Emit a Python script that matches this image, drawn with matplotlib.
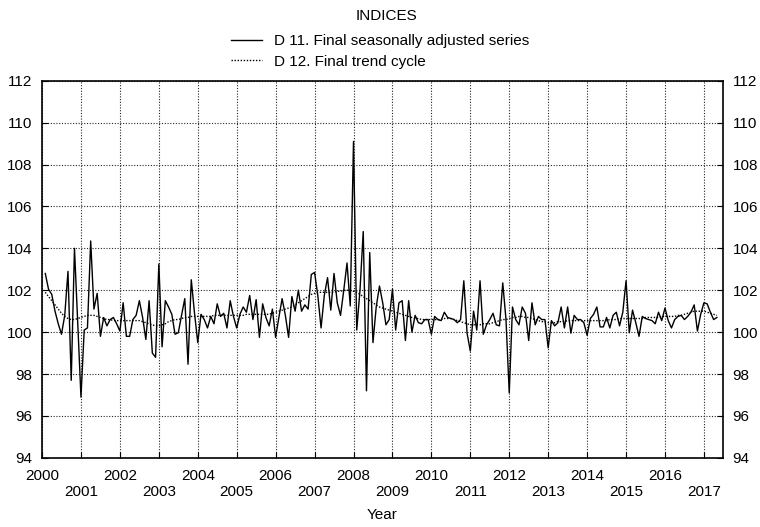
import numpy as np
import matplotlib
matplotlib.use('Agg')
import matplotlib.pyplot as plt

plt.rcParams['font.family'] = ['Liberation Sans', 'DejaVu Sans']

# D 11 - final seasonally adjusted series, monthly from Feb 2000
d11 = [102.8, 102.05, 101.8, 101.0, 100.4, 99.9, 100.8, 102.9, 97.7, 104.0, 100.4, 96.9,
       100.1, 100.2, 104.35, 101.1, 101.85, 99.8, 100.7, 100.3, 100.6, 100.7, 100.4, 100.05,
       101.4, 99.8, 99.8, 100.6, 100.8, 101.5, 100.7, 99.65, 101.5, 99.0, 98.8, 103.25,
       99.3, 101.5, 101.2, 100.85, 99.9, 99.97, 100.8, 101.6, 98.47, 102.5, 100.9, 99.5,
       100.85, 100.6, 100.2, 100.75, 100.4, 101.35, 100.75, 100.9, 100.2, 101.5, 100.75, 100.2,
       100.85, 101.2, 100.95, 101.75, 100.6, 101.55, 99.75, 101.35, 100.7, 100.3, 101.1, 99.75,
       100.7, 101.6, 100.8, 99.75, 101.7, 101.0, 102.0, 101.0, 101.3, 101.1, 102.75, 102.85,
       101.75, 100.2, 101.75, 102.6, 101.05, 102.8, 101.4, 100.8, 102.0, 103.3, 101.25, 109.1,
       100.1, 102.0, 104.8, 97.2, 103.8, 99.5, 101.2, 102.2, 101.4, 100.35, 100.6, 102.05,
       100.1, 101.4, 101.5, 99.6, 101.5, 100.0, 100.8, 100.45, 100.4, 100.6, 100.6, 99.9,
       100.75, 100.6, 100.55, 100.95, 100.7, 100.65, 100.6, 100.45, 100.6, 102.45, 99.95, 99.1,
       101.0, 100.1, 102.45, 99.9, 100.35, 100.6, 100.9, 100.35, 100.3, 102.35, 100.6, 97.1,
       101.2, 100.6, 100.35, 101.2, 100.9, 99.6, 101.4, 100.35, 100.75, 100.6, 100.6, 99.25,
       100.55, 100.3, 100.45, 101.2, 100.2, 101.2, 99.95, 100.8, 100.6, 100.6, 100.45, 99.85,
       100.65, 100.85, 101.2, 100.25, 100.25, 100.7, 100.2, 100.8, 100.95, 100.3, 100.95, 102.45,
       99.97, 101.05, 100.45, 99.8, 100.75, 100.65, 100.6, 100.55, 100.4, 100.95, 100.55, 101.15,
       100.55, 100.2, 100.6, 100.75, 100.8, 100.6, 100.75, 100.95, 101.3, 100.05, 100.85, 101.4,
       101.35, 100.95, 100.6, 100.7]

# D 12 - final trend cycle
d12 = [101.9, 101.7, 101.5, 101.3, 101.1, 100.9, 100.75, 100.65, 100.6, 100.6, 100.65, 100.7,
       100.75, 100.8, 100.8, 100.8, 100.75, 100.7, 100.65, 100.6, 100.6, 100.55, 100.55, 100.55,
       100.55, 100.55, 100.55, 100.55, 100.55, 100.55, 100.5, 100.45, 100.4, 100.35, 100.3, 100.3,
       100.35, 100.4, 100.5, 100.55, 100.6, 100.6, 100.65, 100.7, 100.7, 100.75, 100.75, 100.75,
       100.75, 100.75, 100.75, 100.75, 100.8, 100.8, 100.8, 100.8, 100.8, 100.8, 100.8, 100.8,
       100.8, 100.8, 100.85, 100.85, 100.85, 100.85, 100.85, 100.85, 100.85, 100.85, 100.9, 100.95,
       101.0, 101.05, 101.1, 101.15, 101.2, 101.3, 101.4, 101.5, 101.6, 101.7, 101.8, 101.85,
       101.9, 101.9, 101.9, 101.9, 101.9, 101.9, 101.95, 101.95, 102.0, 102.0, 102.0, 101.95,
       101.9, 101.8, 101.7, 101.6, 101.5, 101.4, 101.3, 101.2, 101.15, 101.1, 101.05, 101.0,
       100.95, 100.9, 100.85, 100.8, 100.75, 100.7, 100.65, 100.65, 100.6, 100.6, 100.6, 100.6,
       100.6, 100.6, 100.6, 100.65, 100.65, 100.65, 100.6, 100.55, 100.5, 100.45, 100.4, 100.35,
       100.35, 100.35, 100.35, 100.4, 100.4, 100.4, 100.45, 100.5, 100.55, 100.6, 100.6, 100.65,
       100.7, 100.7, 100.75, 100.75, 100.7, 100.7, 100.65, 100.6, 100.55, 100.5, 100.5, 100.45,
       100.45, 100.45, 100.5, 100.5, 100.5, 100.55, 100.55, 100.55, 100.55, 100.55, 100.55, 100.55,
       100.55, 100.55, 100.55, 100.55, 100.55, 100.55, 100.6, 100.6, 100.6, 100.65, 100.65, 100.65,
       100.65, 100.65, 100.65, 100.65, 100.65, 100.7, 100.7, 100.7, 100.7, 100.7, 100.75, 100.75,
       100.75, 100.75, 100.75, 100.8, 100.8, 100.85, 100.9, 100.95, 101.0, 101.0, 101.0, 101.0,
       100.95, 100.9, 100.85, 100.8]

start_year, start_month = 2000, 2
years = list(range(2000, 2018))
yticks = list(range(94, 113, 2))

t = start_year + (start_month - 1 + np.arange(len(d11))) / 12.0

fig = plt.figure(figsize=(7.6, 5.27), dpi=100)
ax = fig.add_axes([0.0553, 0.1312, 0.8960, 0.7157])

ax.plot(t, d11, color='black', lw=1.0, label='D 11. Final seasonally adjusted series')
ax.plot(t, d12, color='black', lw=1.0, ls=(0, (1, 1.2)), label='D 12. Final trend cycle')

ax.set_xlim(2000, 2017.49)
ax.set_ylim(94, 112)
ax.set_xticks(years)
ax.set_xticklabels([str(y) if y % 2 == 0 else '\n' + str(y) for y in years])
ax.set_yticks(yticks)
ax.tick_params(axis='both', direction='in', length=4, width=0.8, labelsize=11, colors='black')
ax.tick_params(axis='y', right=True, labelright=True, pad=7)
ax.tick_params(axis='x', pad=8)
ax.grid(True, color='0.15', lw=0.8, ls=(0, (1, 1.5)))
for s in ax.spines.values():
    s.set_linewidth(1.2)

ax.set_xlabel('Year', fontsize=11, labelpad=6)
fig.text(0.508, 0.97, 'INDICES', ha='center', va='center', fontsize=11)
ax.legend(loc='upper center', bbox_to_anchor=(0.5, 0.955), bbox_transform=fig.transFigure,
          frameon=False, fontsize=11, handlelength=2.0, handletextpad=0.8,
          labelspacing=0.4, borderpad=0.2)

plt.savefig('out.png', dpi=100)
